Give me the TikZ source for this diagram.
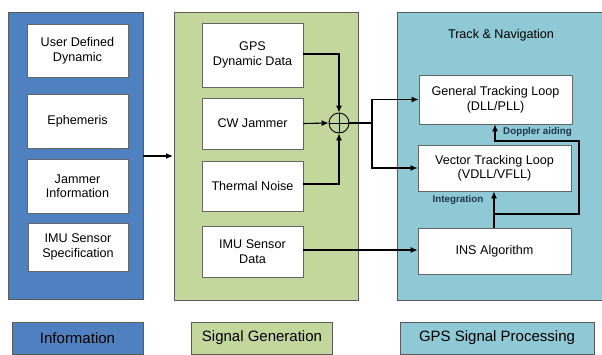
\documentclass[tikz,border=0pt]{standalone}
\usepackage{fontspec}
\setmainfont{Liberation Sans}
\usetikzlibrary{arrows.meta}
\definecolor{infoblue}{HTML}{4F81C0}
\definecolor{gengreen}{HTML}{C3D69B}
\definecolor{procteal}{HTML}{8FC9D6}
\definecolor{edgegray}{HTML}{5A5A5A}
\definecolor{labelnavy}{HTML}{1F3550}
\begin{document}
\begin{tikzpicture}[x=1pt,y=-1pt,
  panel/.style={draw=edgegray,line width=0.8pt},
  block/.style={draw=gray!80!black,fill=white,line width=0.8pt,inner sep=0pt,
    align=center,font=\fontsize{12.6}{14.5}\selectfont},
  legend/.style={draw=edgegray,line width=0.8pt,inner sep=0pt,
    font=\fontsize{15}{17}\selectfont},
  flow/.style={line width=1.1pt,-{Latex[length=7pt,width=6pt]}},
  wire/.style={line width=1.1pt},
  tag/.style={font=\bfseries\fontsize{9.8}{11}\selectfont,text=labelnavy,inner sep=1pt}]
\useasboundingbox (0,0) rectangle (602,354);

% stage panels
\fill[procteal] (397,12) rectangle (602,300);
\draw[edgegray,line width=0.8pt] (602,12) -- (397,12) -- (397,300) -- (602,300);
\draw[panel,fill=infoblue] (8,12) rectangle (143,299);
\draw[panel,fill=gengreen] (174,12) rectangle (358,300);

% information blocks
\node[block,minimum width=101pt,minimum height=53pt] (udd) at (77.5,50.5) {User Defined\\Dynamic};
\node[block,minimum width=101pt,minimum height=54pt] (eph) at (77.5,121) {Ephemeris};
\node[block,minimum width=101pt,minimum height=54pt] (jam) at (77.5,186) {Jammer\\Information};
\node[block,minimum width=100pt,minimum height=48pt] (imus) at (78,247) {IMU Sensor\\Specification};

% signal generation blocks
\node[block,minimum width=101pt,minimum height=64pt] (gps) at (252.5,55) {GPS\\Dynamic Data};
\node[block,minimum width=101pt,minimum height=51pt] (cw) at (252.5,123.5) {CW Jammer};
\node[block,minimum width=101pt,minimum height=50pt] (tn) at (252.5,186) {Thermal Noise};
\node[block,minimum width=101pt,minimum height=51pt] (imud) at (252.5,251.5) {IMU Sensor\\Data};

% summing junction
\node[circle,draw=black,line width=0.9pt,minimum size=20pt,inner sep=0pt] (sum) at (339,123) {};
\draw[line width=0.9pt] (sum.north) -- (sum.south) (sum.west) -- (sum.east);

% signal processing blocks
\node[font=\fontsize{12.6}{14.5}\selectfont] (title) at (501,35) {Track \& Navigation};
\node[block,minimum width=153pt,minimum height=49pt] (gtl) at (495.5,99.5) {General Tracking Loop\\(DLL/PLL)};
\node[block,minimum width=153pt,minimum height=46pt] (vtl) at (494.5,168) {Vector Tracking Loop\\(VDLL/VFLL)};
\node[block,minimum width=153pt,minimum height=46pt] (ins) at (494.5,251) {INS Algorithm};

% connectors
\coordinate (infoout) at (143,156);
\draw[flow] (infoout) -- (173,156);
\draw[flow] (gps.east |- 0,54) -| (sum.north);
\draw[flow] (cw.east) -- (sum.west);
\draw[flow] (tn.east |- 0,184) -| (sum.south);
\coordinate (split) at (372,123);
\draw[wire] (sum.east) -- (split);
\draw[flow] (split) |- (gtl.west);
\draw[flow] (split) |- (vtl.west);
\draw[flow] (imud.east |- 0,250) -- (ins.west |- 0,250);
\coordinate (branch) at (494,214);
\draw[flow] (ins.north -| branch) -- (vtl.south -| branch);
\draw[flow] (branch) -- (579,214) -- (579,141) -- (495,141) -- (gtl.south -| 495,0);
\node[tag,anchor=west] (doppler) at (502,132) {Doppler aiding};
\node[tag] (integ) at (458,200) {Integration};

% legend
\node[legend,fill=infoblue,minimum width=131pt,minimum height=32pt] (leg1) at (77.5,338) {Information};
\node[legend,fill=gengreen,minimum width=141pt,minimum height=32pt] (leg2) at (262,338) {Signal Generation};
\node[legend,fill=procteal,minimum width=194pt,minimum height=32pt] (leg3) at (497,338) {GPS Signal Processing};
\end{tikzpicture}
\end{document}
